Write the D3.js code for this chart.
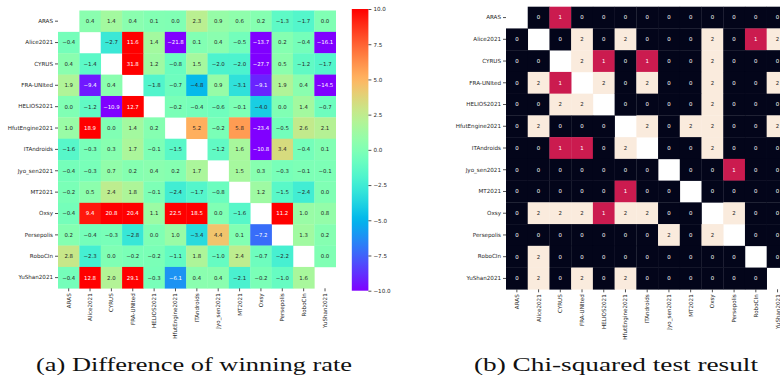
<!DOCTYPE html>
<html>
<head>
<meta charset="utf-8">
<script src="https://cdn.jsdelivr.net/npm/d3@7"></script>
<style>
  html, body { margin: 0; padding: 0; background: #fff; }
  svg { display: block; }
  text { font-family: "DejaVu Sans", sans-serif; }
  text.caption { font-family: "Liberation Serif", serif; }
</style>
</head>
<body>
<svg id="chart" width="780" height="382"></svg>
<script>
// Team names, shared by rows and columns of both matrices
const teams = ["ARAS", "Alice2021", "CYRUS", "FRA-UNIted", "HELIOS2021", "HfutEngine2021",
  "ITAndroids", "Jyo_sen2021", "MT2021", "Oxsy", "Persepolis", "RoboCIn", "YuShan2021"];

// (a) Difference of winning rate, one array per row team (null = diagonal)
const diffARAS       = [null, 0.4, 1.4, 0.4, 0.1, 0.0, 2.3, 0.9, 0.6, 0.2, -1.3, -1.7, 0.0];
const diffAlice      = [-0.4, null, -2.7, 11.6, 1.4, -21.8, 0.1, 0.4, -0.5, -13.7, 0.2, -0.4, -16.1];
const diffCYRUS      = [0.4, -1.4, null, 31.8, 1.2, -0.8, 1.5, -2.0, -2.0, -27.7, 0.5, -1.2, -1.7];
const diffFRA        = [1.9, -9.4, 0.4, null, -1.8, -0.7, -4.8, 0.9, -3.1, -9.1, 1.9, 0.4, -14.5];
const diffHELIOS     = [0.0, -1.2, -10.9, 12.7, null, -0.2, -0.4, -0.6, -0.1, -4.0, 0.0, 1.4, -0.7];
const diffHfut       = [1.0, 18.9, 0.0, 1.4, 0.2, null, 5.2, -0.2, 5.8, -23.4, -0.5, 2.6, 2.1];
const diffITAndroids = [-1.6, -0.3, 0.3, 1.7, -0.1, -1.5, null, -1.2, 1.6, -10.8, 3.4, -0.4, 0.1];
const diffJyo        = [-0.4, -0.3, 0.7, 0.2, 0.4, 0.2, 1.7, null, 1.5, 0.3, -0.3, -0.1, -0.1];
const diffMT         = [-0.2, 0.5, 2.4, 1.8, -0.1, -2.4, -1.7, -0.8, null, 1.2, -1.5, -2.4, 0.0];
const diffOxsy       = [-0.4, 9.4, 20.8, 20.4, 1.1, 22.5, 18.5, 0.0, -1.6, null, 11.2, 1.0, 0.8];
const diffPersepolis = [0.2, -0.4, -0.3, -2.8, 0.0, 1.0, -3.4, 4.4, 0.1, -7.2, null, 1.3, 0.2];
const diffRoboCIn    = [2.8, -2.3, 0.0, -0.2, -0.2, -1.1, 1.8, -1.0, 2.4, -0.7, -2.2, null, 0.0];
const diffYuShan     = [-0.4, 12.8, 2.0, 29.1, -0.3, -6.1, 0.4, 0.4, -2.1, -0.2, -1.0, 1.6, null];

// (b) Chi-squared test result per row team (null = diagonal)
const chiARAS       = [null, 0, 1, 0, 0, 0, 0, 0, 0, 0, 0, 0, 0];
const chiAlice      = [0, null, 0, 2, 0, 2, 0, 0, 0, 2, 0, 1, 2];
const chiCYRUS      = [0, 0, null, 2, 1, 0, 1, 0, 0, 2, 0, 0, 0];
const chiFRA        = [0, 2, 1, null, 2, 0, 2, 0, 0, 2, 0, 0, 2];
const chiHELIOS     = [0, 0, 2, 2, null, 0, 0, 0, 0, 2, 0, 0, 0];
const chiHfut       = [0, 2, 0, 0, 0, null, 2, 0, 2, 2, 0, 0, 2];
const chiITAndroids = [0, 0, 1, 1, 0, 2, null, 0, 0, 2, 0, 0, 0];
const chiJyo        = [0, 0, 0, 0, 0, 0, 0, null, 0, 0, 1, 0, 0];
const chiMT         = [0, 0, 0, 0, 0, 1, 0, 0, null, 0, 0, 0, 0];
const chiOxsy       = [0, 2, 2, 2, 1, 2, 2, 0, 0, null, 2, 0, 0];
const chiPersepolis = [0, 0, 0, 0, 0, 0, 0, 2, 0, 2, null, 0, 0];
const chiRoboCIn    = [0, 2, 0, 0, 0, 0, 0, 0, 0, 0, 0, null, 0];
const chiYuShan     = [0, 2, 0, 2, 0, 2, 0, 0, 0, 0, 0, 0, null];

const colorbarTicks = [10, 7.5, 5, 2.5, 0, -2.5, -5, -7.5, -10];

const captionA = "(a) Difference of winning rate";
const captionB = "(b) Chi-squared test result";

const diffRows = [diffARAS, diffAlice, diffCYRUS, diffFRA, diffHELIOS, diffHfut, diffITAndroids,
  diffJyo, diffMT, diffOxsy, diffPersepolis, diffRoboCIn, diffYuShan];
const chiRows = [chiARAS, chiAlice, chiCYRUS, chiFRA, chiHELIOS, chiHfut, chiITAndroids,
  chiJyo, chiMT, chiOxsy, chiPersepolis, chiRoboCIn, chiYuShan];

// matplotlib "rainbow" colormap
function rainbow(t) {
  t = Math.max(0, Math.min(1, t));
  const r = Math.min(1, Math.abs(2 * t - 0.5));
  const g = Math.sin(Math.PI * t);
  const b = Math.cos(Math.PI * t / 2);
  return d3.rgb(r * 255, g * 255, b * 255);
}
// seaborn "rocket" endpoints and middle, for the three test outcomes
const rocket = d3.scaleOrdinal().domain([0, 1, 2]).range(["#03051a", "#cb1b4f", "#faebdd"]);

function luminance(c) {
  const lin = v => { v /= 255; return v <= 0.03928 ? v / 12.92 : Math.pow((v + 0.055) / 1.055, 2.4); };
  return 0.2126 * lin(c.r) + 0.7152 * lin(c.g) + 0.0722 * lin(c.b);
}
const textColor = c => luminance(d3.rgb(c)) > 0.408 ? "#262626" : "#ffffff";

const svg = d3.select("#chart");
const diffColor = d3.scaleLinear().domain([-10, 10]).range([0, 1]).clamp(true);

function heatmap(g, rows, opts) {
  const x = d3.scaleBand().domain(teams).range([opts.x0, opts.x1]);
  const y = d3.scaleBand().domain(teams).range([opts.y0, opts.y1]);
  const cells = [];
  rows.forEach((row, i) => row.forEach((v, j) => cells.push({ r: teams[i], c: teams[j], v })));
  const filled = cells.filter(d => d.v !== null);

  g.selectAll("rect.cell").data(filled).join("rect")
    .attr("class", "cell")
    .attr("x", d => x(d.c)).attr("y", d => y(d.r))
    .attr("width", x.bandwidth() + 0.3).attr("height", y.bandwidth() + 0.3)
    .attr("fill", d => opts.color(d.v));

  g.selectAll("text.annot").data(filled).join("text")
    .attr("class", "annot")
    .attr("x", d => x(d.c) + x.bandwidth() / 2)
    .attr("y", d => y(d.r) + y.bandwidth() / 2)
    .attr("dy", "0.35em")
    .attr("text-anchor", "middle")
    .attr("font-size", 5.4)
    .attr("fill", d => textColor(opts.color(d.v)))
    .text(d => opts.format(d.v));

  // Row labels
  const yAxis = d3.axisLeft(y).tickSize(3).tickPadding(2);
  const ya = g.append("g").attr("transform", `translate(${opts.x0},0)`).call(yAxis);
  ya.select(".domain").remove();
  ya.selectAll("line").attr("stroke", "#262626").attr("stroke-width", 0.8);
  ya.selectAll("text").attr("font-size", 5.6).attr("fill", "#262626")
    .attr("font-family", "DejaVu Sans, sans-serif");

  // Column labels, rotated
  const xAxis = d3.axisBottom(x).tickSize(3).tickPadding(2);
  const xa = g.append("g").attr("transform", `translate(0,${opts.y1})`).call(xAxis);
  xa.select(".domain").remove();
  xa.selectAll("line").attr("stroke", "#262626").attr("stroke-width", 0.8);
  xa.selectAll("text").attr("font-size", 5.6).attr("fill", "#262626")
    .attr("font-family", "DejaVu Sans, sans-serif")
    .attr("transform", "rotate(-90)")
    .attr("text-anchor", "end")
    .attr("x", -5).attr("y", 0).attr("dy", "0.35em");
}

// (a) winning-rate difference
const gA = svg.append("g");
heatmap(gA, diffRows, {
  x0: 58, x1: 335.7, y0: 10.5, y1: 288.3,
  color: v => rainbow(diffColor(v)).formatHex(),
  format: d3.format(".1f")
});

// colorbar
const cb = { x: 351.8, w: 16.6, y0: 9, y1: 290.7 };
const cbScale = d3.scaleLinear().domain([-10, 10]).range([cb.y1, cb.y0]);
const grad = svg.append("defs").append("linearGradient")
  .attr("id", "rainbowGrad").attr("x1", 0).attr("y1", 1).attr("x2", 0).attr("y2", 0);
grad.selectAll("stop").data(d3.range(0, 1.0001, 0.02)).join("stop")
  .attr("offset", d => d).attr("stop-color", d => rainbow(d).formatHex());
svg.append("rect").attr("x", cb.x).attr("y", cb.y0).attr("width", cb.w)
  .attr("height", cb.y1 - cb.y0).attr("fill", "url(#rainbowGrad)");
const cbAxis = d3.axisRight(cbScale).tickValues(colorbarTicks).tickSize(3).tickPadding(2)
  .tickFormat(d => d3.format(".1f")(d).replace("-", "\u2212"));
const cba = svg.append("g").attr("transform", `translate(${cb.x + cb.w},0)`).call(cbAxis);
cba.select(".domain").remove();
cba.selectAll("line").attr("stroke", "#262626").attr("stroke-width", 0.8);
cba.selectAll("text").attr("font-size", 5.6).attr("fill", "#262626")
  .attr("font-family", "DejaVu Sans, sans-serif");

// (b) chi-squared test
const gB = svg.append("g");
heatmap(gB, chiRows, {
  x0: 506, x1: 788.4, y0: 6.7, y1: 289.3,
  color: v => rocket(v),
  format: d => String(d)
});

// captions
svg.append("text").attr("class", "caption").attr("x", 194).attr("y", 371)
  .attr("text-anchor", "middle").attr("font-size", 19.5).attr("fill", "#111")
  .attr("textLength", 316).attr("lengthAdjust", "spacingAndGlyphs")
  .text(captionA);
svg.append("text").attr("class", "caption").attr("x", 616).attr("y", 371)
  .attr("text-anchor", "middle").attr("font-size", 19.5).attr("fill", "#111")
  .attr("textLength", 284).attr("lengthAdjust", "spacingAndGlyphs")
  .text(captionB);
</script>
</body>
</html>
